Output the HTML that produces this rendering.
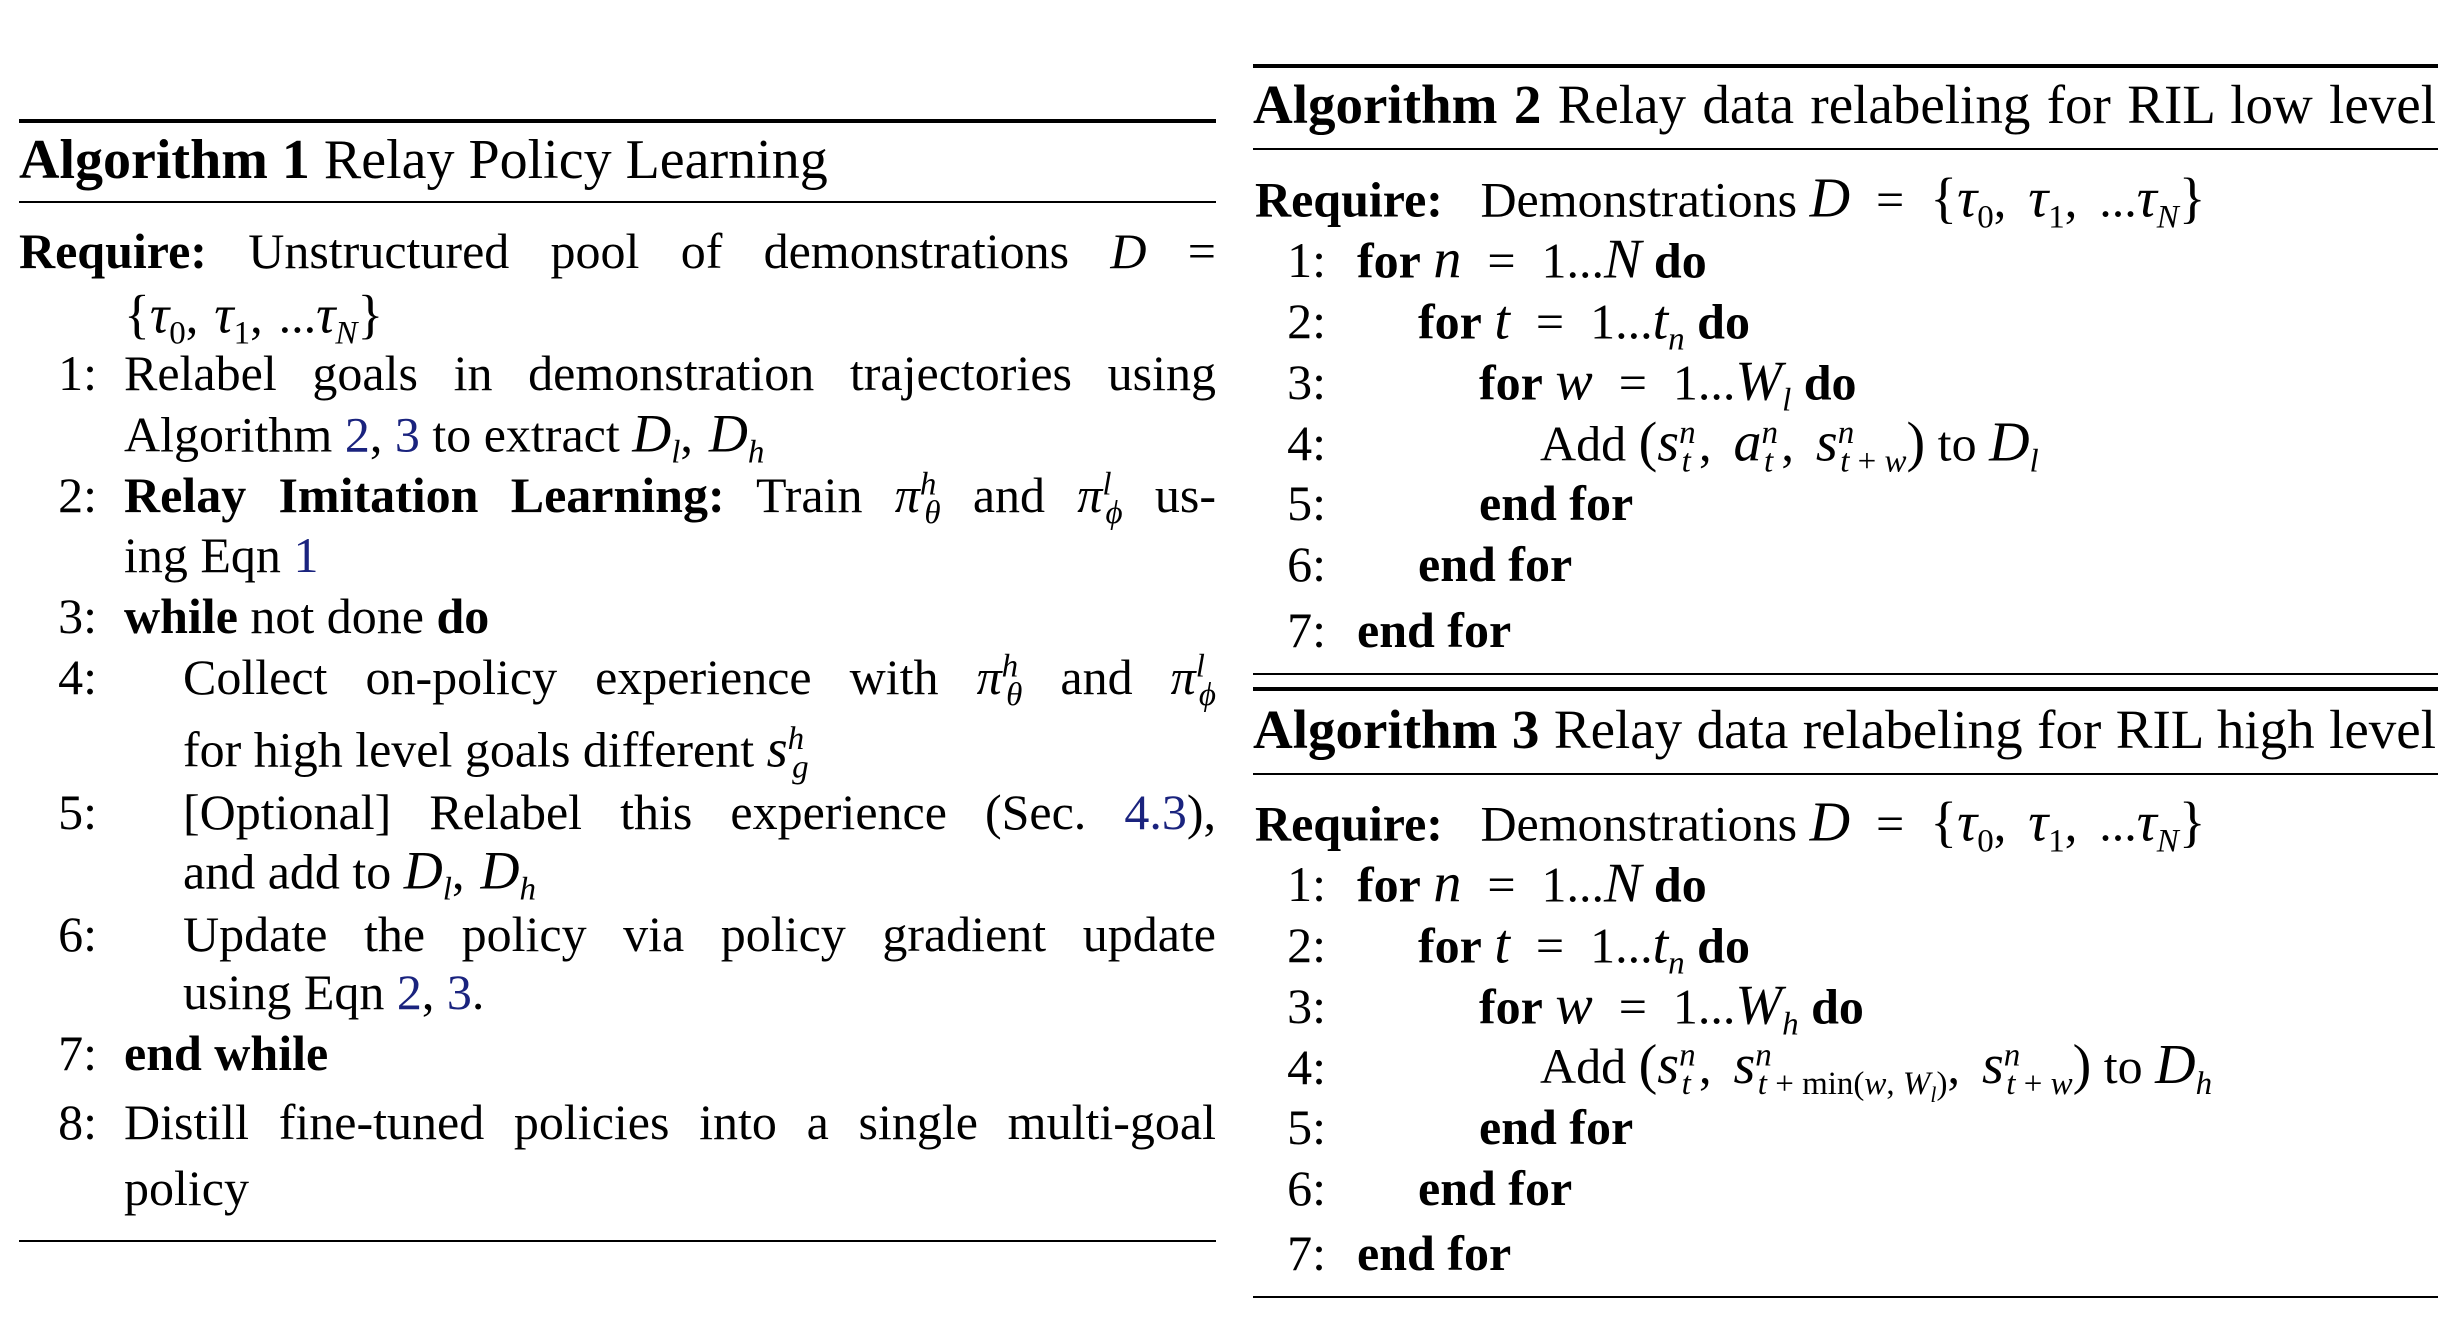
<!DOCTYPE html>
<html><head><meta charset="utf-8">
<style>
body{margin:0;background:#fff;width:2444px;height:1328px;position:relative;overflow:hidden;font-family:"Liberation Serif",serif;color:#000}
.l{position:absolute;white-space:nowrap;font-size:50px;line-height:52px;transform:translateY(-50%)}
.j{text-align:justify;text-align-last:justify;white-space:normal}
.t{font-size:55px}
.t1{font-size:56px}
.n{position:absolute;width:80px;text-align:right;font-size:50px;line-height:52px;transform:translateY(-50%)}
.r{position:absolute;background:#000}
.e{margin:0 20px}
.c{margin-right:16px}
.R .e{margin:0 26px}
.R .c{margin-right:22px}
.m{font-size:54px}
.R .m{font-size:56px}
i{font-style:italic}
sub,sup{font-size:66%;line-height:0}
a{color:#1a237e;text-decoration:none}
</style></head><body>
<!-- Algorithm 1 -->
<div class="r" style="left:19px;top:119px;width:1197px;height:4px"></div>
<div class="l t1" style="left:19px;top:160px"><b>Algorithm 1</b> Relay Policy Learning</div>
<div class="r" style="left:19px;top:201px;width:1197px;height:2px"></div>
<div class="l j" style="left:19px;top:251px;width:1197px"><b>Require:</b> Unstructured pool of demonstrations <i>D</i> =</div>
<div class="l" style="left:124px;top:315px"><span class="m">{</span><i class="m">τ</i><sub>0</sub><span class="c">,</span><i class="m">τ</i><sub>1</sub><span class="c">,</span>...<i class="m">τ</i><sub><i>N</i></sub><span class="m">}</span></div>
<div class="n" style="left:17px;top:373px">1:</div>
<div class="l j" style="left:124px;top:373px;width:1092px">Relabel goals in demonstration trajectories using</div>
<div class="l" style="left:124px;top:434px">Algorithm <a>2</a>, <a>3</a> to extract <i class="m">D</i><sub><i>l</i></sub><span class="c">,</span><i class="m">D</i><sub><i>h</i></sub></div>
<div class="n" style="left:17px;top:495px">2:</div>
<div class="l j" style="left:124px;top:495px;width:1092px"><b>Relay Imitation Learning:</b> Train <i>π</i><sup><i>h</i></sup><sub style="margin-left:-12px"><i>θ</i></sub> and <i>π</i><sup><i>l</i></sup><sub style="margin-left:-6px"><i>ϕ</i></sub> us-</div>
<div class="l" style="left:124px;top:555px">ing Eqn <a>1</a></div>
<div class="n" style="left:17px;top:616px">3:</div>
<div class="l" style="left:124px;top:616px"><b>while</b> not done <b>do</b></div>
<div class="n" style="left:17px;top:677px">4:</div>
<div class="l j" style="left:183px;top:677px;width:1033px">Collect on-policy experience with <i>π</i><sup><i>h</i></sup><sub style="margin-left:-12px"><i>θ</i></sub> and <i>π</i><sup><i>l</i></sup><sub style="margin-left:-6px"><i>ϕ</i></sub></div>
<div class="l" style="left:183px;top:749px">for high level goals different <i class="m">s</i><sup><i>h</i></sup><sub style="margin-left:-12px"><i>g</i></sub></div>
<div class="n" style="left:17px;top:812px">5:</div>
<div class="l j" style="left:183px;top:812px;width:1033px">[Optional] Relabel this experience (Sec. <a>4.3</a>),</div>
<div class="l" style="left:183px;top:871px">and add to <i class="m">D</i><sub><i>l</i></sub><span class="c">,</span><i class="m">D</i><sub><i>h</i></sub></div>
<div class="n" style="left:17px;top:934px">6:</div>
<div class="l j" style="left:183px;top:934px;width:1033px">Update the policy via policy gradient update</div>
<div class="l" style="left:183px;top:992px">using Eqn <a>2</a>, <a>3</a>.</div>
<div class="n" style="left:17px;top:1053px">7:</div>
<div class="l" style="left:124px;top:1053px"><b>end while</b></div>
<div class="n" style="left:17px;top:1122px">8:</div>
<div class="l j" style="left:124px;top:1122px;width:1092px">Distill fine-tuned policies into a single multi-goal</div>
<div class="l" style="left:124px;top:1188px">policy</div>
<div class="r" style="left:19px;top:1240px;width:1197px;height:2px"></div>

<div class="R">
<!-- Algorithm 2 -->
<div class="r" style="left:1253px;top:64px;width:1185px;height:4px"></div>
<div class="l t j" style="left:1253px;top:105px;width:1183px"><b>Algorithm 2</b> Relay data relabeling for RIL low level</div>
<div class="r" style="left:1253px;top:148px;width:1185px;height:2px"></div>
<div class="l" style="left:1255px;top:199px"><b>Require:</b>&nbsp;&nbsp; Demonstrations <i class="m">D</i><span class="e">=</span><span class="m">{</span><i class="m">τ</i><sub>0</sub><span class="c">,</span><i class="m">τ</i><sub>1</sub><span class="c">,</span>...<i class="m">τ</i><sub><i>N</i></sub><span class="m">}</span></div>
<div class="n" style="left:1246px;top:260px">1:</div>
<div class="l" style="left:1357px;top:260px"><b>for</b> <i class="m">n</i><span class="e">=</span>1...<i class="m">N</i> <b>do</b></div>
<div class="n" style="left:1246px;top:321px">2:</div>
<div class="l" style="left:1418px;top:321px"><b>for</b> <i class="m">t</i><span class="e">=</span>1...<i class="m">t</i><sub><i>n</i></sub> <b>do</b></div>
<div class="n" style="left:1246px;top:382px">3:</div>
<div class="l" style="left:1479px;top:382px"><b>for</b> <i class="m">w</i><span class="e">=</span>1...<i class="m">W</i><sub><i>l</i></sub> <b>do</b></div>
<div class="n" style="left:1246px;top:443px">4:</div>
<div class="l" style="left:1540px;top:443px">Add <span class="m">(</span><i class="m">s</i><sup><i>n</i></sup><sub style="margin-left:-14px"><i>t</i>&nbsp;</sub><span class="c">,</span><i class="m">a</i><sup><i>n</i></sup><sub style="margin-left:-14px"><i>t</i>&nbsp;</sub><span class="c">,</span><i class="m">s</i><sup><i>n</i></sup><sub style="margin-left:-14px"><i>t</i> + <i>w</i></sub><span class="m">)</span> to <i class="m">D</i><sub><i>l</i></sub></div>
<div class="n" style="left:1246px;top:503px">5:</div>
<div class="l" style="left:1479px;top:503px"><b>end for</b></div>
<div class="n" style="left:1246px;top:564px">6:</div>
<div class="l" style="left:1418px;top:564px"><b>end for</b></div>
<div class="n" style="left:1246px;top:630px">7:</div>
<div class="l" style="left:1357px;top:630px"><b>end for</b></div>
<div class="r" style="left:1253px;top:673px;width:1185px;height:2px"></div>

<!-- Algorithm 3 -->
<div class="r" style="left:1253px;top:687px;width:1185px;height:4px"></div>
<div class="l t j" style="left:1253px;top:730px;width:1183px"><b>Algorithm 3</b> Relay data relabeling for RIL high level</div>
<div class="r" style="left:1253px;top:773px;width:1185px;height:2px"></div>
<div class="l" style="left:1255px;top:823px"><b>Require:</b>&nbsp;&nbsp; Demonstrations <i class="m">D</i><span class="e">=</span><span class="m">{</span><i class="m">τ</i><sub>0</sub><span class="c">,</span><i class="m">τ</i><sub>1</sub><span class="c">,</span>...<i class="m">τ</i><sub><i>N</i></sub><span class="m">}</span></div>
<div class="n" style="left:1246px;top:884px">1:</div>
<div class="l" style="left:1357px;top:884px"><b>for</b> <i class="m">n</i><span class="e">=</span>1...<i class="m">N</i> <b>do</b></div>
<div class="n" style="left:1246px;top:945px">2:</div>
<div class="l" style="left:1418px;top:945px"><b>for</b> <i class="m">t</i><span class="e">=</span>1...<i class="m">t</i><sub><i>n</i></sub> <b>do</b></div>
<div class="n" style="left:1246px;top:1006px">3:</div>
<div class="l" style="left:1479px;top:1006px"><b>for</b> <i class="m">w</i><span class="e">=</span>1...<i class="m">W</i><sub><i>h</i></sub> <b>do</b></div>
<div class="n" style="left:1246px;top:1067px">4:</div>
<div class="l" style="left:1540px;top:1067px">Add <span class="m">(</span><i class="m">s</i><sup><i>n</i></sup><sub style="margin-left:-14px"><i>t</i>&nbsp;</sub><span class="c">,</span><i class="m">s</i><sup><i>n</i></sup><sub style="margin-left:-14px"><i>t</i> + min(<i>w</i>, <i>W</i><sub><i>l</i></sub>)</sub><span class="c">,</span><i class="m">s</i><sup><i>n</i></sup><sub style="margin-left:-14px"><i>t</i> + <i>w</i></sub><span class="m">)</span> to <i class="m">D</i><sub><i>h</i></sub></div>
<div class="n" style="left:1246px;top:1127px">5:</div>
<div class="l" style="left:1479px;top:1127px"><b>end for</b></div>
<div class="n" style="left:1246px;top:1188px">6:</div>
<div class="l" style="left:1418px;top:1188px"><b>end for</b></div>
<div class="n" style="left:1246px;top:1253px">7:</div>
<div class="l" style="left:1357px;top:1253px"><b>end for</b></div>
<div class="r" style="left:1253px;top:1296px;width:1185px;height:2px"></div>
</div>
</body></html>
